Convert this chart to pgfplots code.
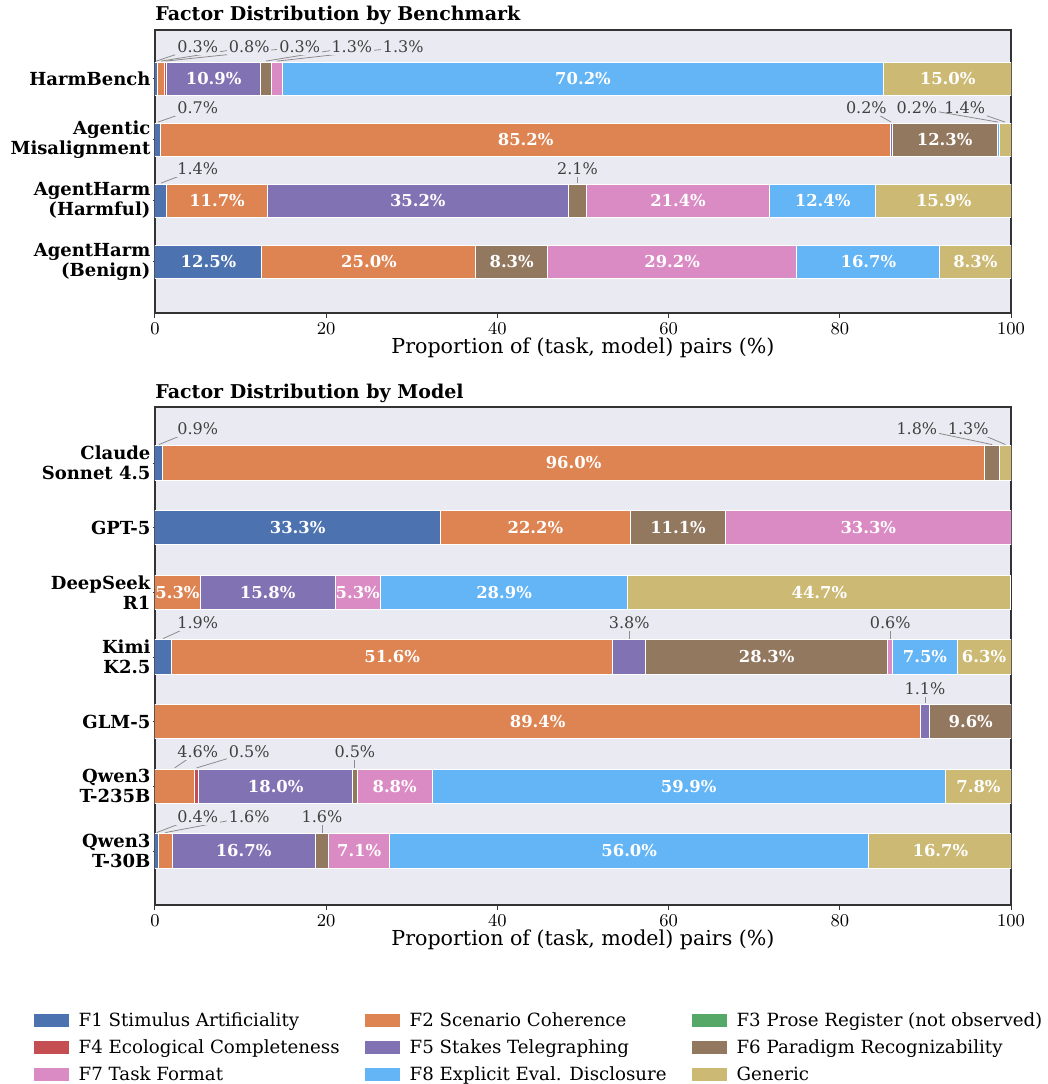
\documentclass[border=0pt]{standalone}
\usepackage{fontspec}
\setmainfont{DejaVu Serif}
\usepackage{pgfplots}
\pgfplotsset{compat=1.18}
\usepackage{pgfplotstable}

\definecolor{cF1}{HTML}{4C72B0}
\definecolor{cF2}{HTML}{DD8452}
\definecolor{cF3}{HTML}{55A868}
\definecolor{cF4}{HTML}{C44E52}
\definecolor{cF5}{HTML}{8172B3}
\definecolor{cF6}{HTML}{937860}
\definecolor{cF7}{HTML}{DA8BC3}
\definecolor{cF8}{HTML}{64B5F6}
\definecolor{cF9}{HTML}{CCB974}
\definecolor{bgc}{HTML}{EAEAF2}

% shares (%) per benchmark, rows top to bottom; F9 = Generic
\pgfplotstableread{
y F1 F2 F3 F4 F5 F6 F7 F8 F9
0 0.3 0.8 0 0.3 10.9 1.3 1.3 70.2 15.0
1 0.7 85.2 0 0 0.2 12.3 0 0.2 1.4
2 1.4 11.7 0 0 35.2 2.1 21.4 12.4 15.9
3 12.5 25.0 0 0 0 8.33 29.17 16.67 8.33
}\bench

% shares (%) per model
\pgfplotstableread{
y F1 F2 F3 F4 F5 F6 F7 F8 F9
0 0.9 96.0 0 0 0 1.8 0 0 1.3
1 33.33 22.22 0 0 0 11.11 33.34 0 0
2 0 5.26 0 0 15.79 0 5.26 28.94 44.74
3 1.9 51.6 0 0 3.8 28.3 0.6 7.5 6.3
4 0 89.4 0 0 1.1 9.6 0 0 0
5 0 4.6 0 0.5 18.0 0.5 8.8 59.9 7.8
6 0.4 1.6 0 0 16.7 1.6 7.1 56.0 16.7
}\model

% running sums, used to centre the value labels on their segments
\newcommand\mksums[1]{%
  \pgfplotstablecreatecol[create col/expr={\thisrow{F1}}]{S1}#1%
  \pgfplotstablecreatecol[create col/expr={\thisrow{S1}+\thisrow{F2}}]{S2}#1%
  \pgfplotstablecreatecol[create col/expr={\thisrow{S2}+\thisrow{F3}}]{S3}#1%
  \pgfplotstablecreatecol[create col/expr={\thisrow{S3}+\thisrow{F4}}]{S4}#1%
  \pgfplotstablecreatecol[create col/expr={\thisrow{S4}+\thisrow{F5}}]{S5}#1%
  \pgfplotstablecreatecol[create col/expr={\thisrow{S5}+\thisrow{F6}}]{S6}#1%
  \pgfplotstablecreatecol[create col/expr={\thisrow{S6}+\thisrow{F7}}]{S7}#1%
  \pgfplotstablecreatecol[create col/expr={\thisrow{S7}+\thisrow{F8}}]{S8}#1%
  \pgfplotstablecreatecol[create col/expr={\thisrow{S8}+\thisrow{F9}}]{S9}#1%
}
\mksums{\bench}
\mksums{\model}

\pgfplotsset{
  frame/.style={
    scale only axis, width=428pt,
    xmin=0, xmax=100,
    y dir=reverse,
  },
  factor/.style={
    frame,
    xbar stacked,
    xtick={0,20,...,100},
    axis background/.style={fill=bgc},
    axis line style={draw=black!80, line width=0.6pt},
    tick style={draw=black!80, line width=0.5pt},
    xtick style={/pgfplots/major tick length=2.5pt},
    ytick style={/pgfplots/major tick length=1pt},
    tick align=outside,
    tick pos=left,
    xticklabel style={font=\fontsize{9}{10.5}\selectfont, yshift=3pt},
    yticklabel style={align=right, xshift=5.5pt, font=\bfseries\fontsize{9}{10}\selectfont},
    xlabel={Proportion of (task, model) pairs (\%)},
    xlabel style={at={(axis description cs:0.5,0)}, anchor=center, yshift=-17.5pt,
      font=\fontsize{10.3}{12}\selectfont},
    title style={at={(axis description cs:0,1)}, anchor=base west, yshift=-1.5pt,
      inner sep=0pt, font=\bfseries\fontsize{9.5}{11}\selectfont},
    every axis plot/.append style={draw=white, line width=0.5pt},
  },
  overlay/.style={frame, hide axis, clip=false},
  seglabel/.style={only marks, mark=none,
    point meta=explicit symbolic,
    nodes near coords={\ifdim\pgfplotspointmeta pt<5pt\else
      \pgfmathprintnumber[fixed,fixed zerofill,precision=1,assume math mode=true]{\pgfplotspointmeta}\%\fi},
    every node near coord/.append style={anchor=center, inner sep=0pt,
      text=white, font=\bfseries\fontsize{8.2}{9}\selectfont},
  },
}
\tikzset{
  anno/.style={inner sep=1pt, fill=bgc, text=black!75, font=\fontsize{8}{9}\selectfont},
  leader/.style={draw=black!45, line width=0.4pt},
}

% text x, text y, point x, point y, label
\newcommand\anno[5]{%
  \draw[leader] (axis cs:#3,#4) -- (axis cs:#1,#2) node[anno] {#5\%};
}

\begin{document}
\begin{tikzpicture}
\useasboundingbox (0,0) rectangle (524pt,542pt);

\begin{axis}[factor,
  at={(77.5pt,385.5pt)}, anchor=south west,
  height=141.5pt,
  bar width=0.54,
  ymin=-0.8, ymax=3.84,
  ytick={0,1,2,3},
  yticklabels={HarmBench, {Agentic\\Misalignment}, {AgentHarm\\(Harmful)}, {AgentHarm\\(Benign)}},
  title={Factor Distribution by Benchmark},
]
\pgfplotsinvokeforeach{1,...,9}{
  \addplot[fill=cF#1] table[x=F#1,y=y]{\bench};
}
\anno{5.0}{-0.52}{0.15}{-0.29}{0.3}
\anno{11.0}{-0.52}{0.7}{-0.29}{0.8}
\anno{16.9}{-0.52}{1.25}{-0.29}{0.3}
\anno{23.0}{-0.52}{12.95}{-0.29}{1.3}
\anno{29.0}{-0.52}{14.25}{-0.29}{1.3}
\anno{5.0}{0.48}{0.35}{0.71}{0.7}
\anno{83.1}{0.48}{86.0}{0.71}{0.2}
\anno{89.0}{0.48}{98.5}{0.71}{0.2}
\anno{94.6}{0.48}{99.3}{0.71}{1.4}
\anno{5.0}{1.48}{0.7}{1.71}{1.4}
\anno{49.35}{1.48}{49.35}{1.71}{2.1}
\end{axis}

\begin{axis}[overlay,
  at={(77.5pt,385.5pt)}, anchor=south west,
  height=141.5pt,
  ymin=-0.8, ymax=3.84,
]
\pgfplotsinvokeforeach{1,...,9}{
  \addplot[seglabel] table[x expr=\thisrow{S#1}-\thisrow{F#1}/2, y=y, meta=F#1]{\bench};
}
\end{axis}

\begin{axis}[factor,
  at={(77.5pt,89.5pt)}, anchor=south west,
  height=249pt,
  bar width=0.53,
  ymin=-0.866, ymax=6.835,
  ytick={0,...,6},
  yticklabels={{Claude\\Sonnet 4.5}, GPT-5, {DeepSeek\\R1}, {Kimi\\K2.5}, GLM-5, {Qwen3\\T-235B}, {Qwen3\\T-30B}},
  title={Factor Distribution by Model},
  legend columns=3,
  legend cell align=left,
  legend style={at={(0.4498,-0.207)}, anchor=north, draw=none, fill=none,
    inner sep=0pt, row sep=1.2pt,
    font=\fontsize{9.1}{10.5}\selectfont,
    /tikz/every odd column/.append style={column sep=3pt},
    /tikz/every even column/.append style={column sep=10.5pt}},
  legend image code/.code={\path[#1,draw=none] (0pt,-3pt) rectangle (17.5pt,3.5pt);},
]
\pgfplotsinvokeforeach{1,...,9}{
  \addplot[fill=cF#1] table[x=F#1,y=y]{\model};
}
\legend{F1 Stimulus Artificiality, F2 Scenario Coherence, F3 Prose Register (not observed),
  F4 Ecological Completeness, F5 Stakes Telegraphing, F6 Paradigm Recognizability,
  F7 Task Format, F8 Explicit Eval. Disclosure, Generic}
\anno{5.0}{-0.53}{0.45}{-0.285}{0.9}
\anno{89.0}{-0.53}{97.8}{-0.285}{1.8}
\anno{95.0}{-0.53}{99.35}{-0.285}{1.3}
\anno{5.0}{2.47}{0.95}{2.715}{1.9}
\anno{55.4}{2.47}{55.4}{2.715}{3.8}
\anno{85.9}{2.47}{85.9}{2.715}{0.6}
\anno{89.95}{3.49}{89.95}{3.715}{1.1}
\anno{5.0}{4.47}{2.3}{4.715}{4.6}
\anno{11.0}{4.47}{4.85}{4.715}{0.5}
\anno{23.35}{4.47}{23.35}{4.715}{0.5}
\anno{5.0}{5.47}{0.2}{5.715}{0.4}
\anno{11.0}{5.47}{1.2}{5.715}{1.6}
\anno{19.5}{5.47}{19.5}{5.715}{1.6}
\end{axis}

\begin{axis}[overlay,
  at={(77.5pt,89.5pt)}, anchor=south west,
  height=249pt,
  ymin=-0.866, ymax=6.835,
]
\pgfplotsinvokeforeach{1,...,9}{
  \addplot[seglabel] table[x expr=\thisrow{S#1}-\thisrow{F#1}/2, y=y, meta=F#1]{\model};
}
\end{axis}
\end{tikzpicture}
\end{document}
